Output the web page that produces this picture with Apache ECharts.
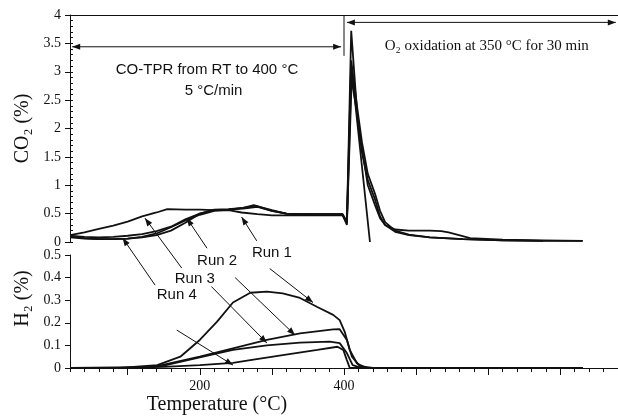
<!DOCTYPE html>
<html><head><meta charset="utf-8">
<script src="https://cdn.jsdelivr.net/npm/echarts@6/dist/echarts.min.js"></script>
<style>html,body{margin:0;padding:0;background:#fff}#c{width:618px;height:418px}</style>
</head><body><div id="c"></div>
<script>
// ---- CO2 (%) traces, top panel ----
const co2Run1T = [20,40,60,80,100,120,140,160,180,200,220,240,258,280,300,320,340,360,380,398,404,410,419,425,433,443,450,457,471,490,519,565,620,676,731];
const co2Run1  = [0.10,0.07,0.05,0.05,0.06,0.09,0.15,0.26,0.38,0.48,0.55,0.56,0.52,0.49,0.47,0.47,0.47,0.47,0.47,0.47,0.33,3.72,2.14,1.57,1.09,0.75,0.45,0.30,0.18,0.12,0.08,0.05,0.03,0.02,0.02];
const co2Run2T = [20,40,60,80,100,120,140,160,180,200,220,240,260,280,300,320,340,360,380,398,404,410,419,425,433,443,450,457,471,490,519,565,620,676];
const co2Run2  = [0.11,0.09,0.08,0.09,0.11,0.14,0.19,0.27,0.40,0.50,0.56,0.57,0.59,0.62,0.55,0.50,0.49,0.49,0.49,0.49,0.36,3.20,2.30,1.75,1.20,0.85,0.55,0.35,0.20,0.13,0.08,0.05,0.03,0.02];
const co2Run3T = [20,40,60,80,100,120,140,155,180,200,220,240,260,275,300,320,340,360,380,398,404,410,419,425,433,443,450,457,471,490,519,535,545,575,620,676,731];
const co2Run3  = [0.12,0.17,0.23,0.29,0.36,0.45,0.52,0.58,0.57,0.57,0.56,0.57,0.60,0.65,0.55,0.50,0.49,0.49,0.49,0.49,0.34,2.90,2.20,1.65,1.00,0.65,0.42,0.30,0.22,0.20,0.20,0.19,0.17,0.07,0.04,0.03,0.02];
const co2Run4T = [20,40,60,80,100,120,140,160,180,200,220,240,260,280,300,320,340,360,380,398,404,411,436];
const co2Run4  = [0.08,0.06,0.05,0.05,0.06,0.08,0.12,0.20,0.34,0.50,0.57,0.58,0.60,0.63,0.56,0.50,0.49,0.48,0.48,0.48,0.30,3.00,0.00];
// ---- H2 (%) traces, bottom panel ----
const h2Run1T = [20,89,141,173,200,224,246,270,293,315,339,363,385,394,401,408,418,432,731];
const h2Run1  = [0,0,0.013,0.05,0.124,0.205,0.29,0.333,0.338,0.33,0.31,0.27,0.235,0.212,0.16,0.08,0.02,0,0];
const h2Run2T = [20,120,141,200,246,293,339,385,394,404,411,422,440,731];
const h2Run2  = [0,0,0.008,0.05,0.087,0.124,0.153,0.171,0.172,0.124,0.05,0.008,0,0];
const h2Run3T = [20,120,150,200,246,293,339,380,394,404,412,425,731];
const h2Run3  = [0,0,0.01,0.047,0.08,0.10,0.112,0.117,0.11,0.066,0.013,0,0];
const h2Run4T = [20,150,200,246,270,315,363,391,399,404,408,731];
const h2Run4  = [0,0.005,0.013,0.023,0.035,0.057,0.08,0.094,0.08,0.035,0,0];
// ---- axis ticks / labels ----
const xLabelValues = [200, 400];
const xMajorTicks = [100, 200, 300, 400, 500, 600, 700];
const runNames = ['Run 1', 'Run 2', 'Run 3', 'Run 4'];

const pair = (xs, ys) => xs.map((x, i) => [x, ys[i]]);
const serif = '"Liberation Serif","DejaVu Serif",serif';
const sans = '"Liberation Sans","DejaVu Sans",sans-serif';
const ink = '#111';

const chart = echarts.init(document.getElementById('c'), null, {renderer: 'canvas'});
const lineSeries = (data, xi, yi) => ({
  type: 'line', data, xAxisIndex: xi, yAxisIndex: yi, showSymbol: false, symbol: 'none',
  lineStyle: {color: ink, width: 1.8}, animation: false, silent: true, z: 3
});

const option = {
  backgroundColor: '#fff',
  animation: false,
  grid: [
    {left: 70, top: 15, width: 548, height: 227},
    {left: 70, top: 255, width: 548, height: 113}
  ],
  xAxis: [
    {gridIndex: 0, type: 'value', min: 20, max: 780, position: 'top',
     axisLine: {show: true, onZero: false, lineStyle: {color: ink, width: 1}},
     axisTick: {show: false}, axisLabel: {show: false}, splitLine: {show: false}},
    {gridIndex: 1, type: 'value', min: 20, max: 780, interval: 20, position: 'bottom',
     axisLine: {show: true, onZero: false, lineStyle: {color: ink, width: 1}},
     axisTick: {show: true, length: 4, lineStyle: {color: ink}},
     axisLabel: {show: true, customValues: xLabelValues, formatter: v => (xLabelValues.includes(v) ? String(v) : ''),
       fontFamily: serif, fontSize: 14, color: ink, margin: 11},
     splitLine: {show: false},
     name: 'Temperature (°C)', nameLocation: 'middle', nameGap: 27,
     nameTextStyle: {fontFamily: serif, fontSize: 20, color: ink, padding: [0, 254, 0, 0]}},
    {gridIndex: 1, type: 'value', min: 20, max: 780, position: 'bottom',
     axisLine: {show: false, onZero: false},
     axisTick: {show: true, length: 7, customValues: xMajorTicks, lineStyle: {color: ink}},
     axisLabel: {show: false}, splitLine: {show: false}}
  ],
  yAxis: [
    {gridIndex: 0, type: 'value', min: 0, max: 4, interval: 0.5, position: 'left',
     axisLine: {show: true, onZero: false, lineStyle: {color: ink}},
     axisTick: {show: true, length: 5, lineStyle: {color: ink}},
     axisLabel: {fontFamily: serif, fontSize: 14, color: ink, margin: 9},
     splitLine: {show: false},
     name: 'CO₂ (%)', nameLocation: 'middle', nameRotate: 90, nameGap: 37,
     nameTextStyle: {fontFamily: serif, fontSize: 20, color: ink}},
    {gridIndex: 0, type: 'value', min: 0, max: 4, interval: 0.1, position: 'left',
     axisLine: {show: false, onZero: false}, axisTick: {show: true, inside: true, length: 3, lineStyle: {color: ink}},
     axisLabel: {show: false}, splitLine: {show: false}},
    {gridIndex: 1, type: 'value', min: 0, max: 0.5, interval: 0.1, position: 'left',
     axisLine: {show: true, onZero: false, lineStyle: {color: ink}},
     axisTick: {show: true, length: 5, lineStyle: {color: ink}},
     axisLabel: {fontFamily: serif, fontSize: 14, color: ink, margin: 9},
     splitLine: {show: false},
     name: 'H₂ (%)', nameLocation: 'middle', nameRotate: 90, nameGap: 37,
     nameTextStyle: {fontFamily: serif, fontSize: 20, color: ink, padding: [0, 0, 0, 26]}}
  ],
  series: [
    lineSeries(pair(co2Run1T, co2Run1), 0, 0),
    lineSeries(pair(co2Run2T, co2Run2), 0, 0),
    lineSeries(pair(co2Run3T, co2Run3), 0, 0),
    lineSeries(pair(co2Run4T, co2Run4), 0, 0),
    lineSeries(pair(h2Run1T, h2Run1), 1, 2),
    lineSeries(pair(h2Run2T, h2Run2), 1, 2),
    lineSeries(pair(h2Run3T, h2Run3), 1, 2),
    lineSeries(pair(h2Run4T, h2Run4), 1, 2)
  ]
};
chart.setOption(option);

// ---- annotations, placed in data coordinates ----
const P = (panel, x, y) => chart.convertToPixel({seriesIndex: panel === 0 ? 0 : 4}, [x, y]);
const g = [];
function seg(a, b, w) {
  g.push({type: 'line', shape: {x1: a[0], y1: a[1], x2: b[0], y2: b[1]}, style: {stroke: ink, lineWidth: w || 1}, z: 10});
}
function head(a, b, len, half) {
  const ang = Math.atan2(b[1] - a[1], b[0] - a[0]);
  const bx = b[0] - len * Math.cos(ang), by = b[1] - len * Math.sin(ang);
  g.push({type: 'polygon', shape: {points: [[b[0], b[1]],
    [bx + half * Math.sin(ang), by - half * Math.cos(ang)],
    [bx - half * Math.sin(ang), by + half * Math.cos(ang)]]}, style: {fill: ink}, z: 10});
}
function arrow(a, b, both) { seg(a, b); head(a, b, 8, 3); if (both) head(b, a, 8, 3); }

// phase arrows
arrow(P(0, 23, 3.44), P(0, 396, 3.44), true);
arrow(P(0, 404, 3.87), P(0, 777, 3.87), true);
seg(P(0, 400, 4), P(0, 400, 3.28));

// run arrows (top panel targets, bottom panel targets)
const runArrowsTop = [[279, 0.02, 258, 0.44], [210, -0.11, 182, 0.42], [175, -0.46, 124, 0.42], [138, -0.76, 93, 0.07]];
const runArrowsBottom = [[297, 0.44, 357, 0.29], [249, 0.40, 332, 0.146], [207, 0.39, 293, 0.111], [168, 0.168, 246, 0.013]];
runArrowsTop.forEach(r => arrow(P(0, r[0], r[1]), P(0, r[2], r[3])));
runArrowsBottom.forEach(r => arrow(P(1, r[0], r[1]), P(1, r[2], r[3])));

const runLabelPos = [[300, 0.509], [224, 0.473], [193, 0.394], [168, 0.323]];
runNames.forEach((n, i) => {
  const p = P(1, runLabelPos[i][0], runLabelPos[i][1]);
  g.push({type: 'text', x: p[0], y: p[1], style: {text: n, font: '15px ' + sans, fill: ink, align: 'center', verticalAlign: 'middle', backgroundColor: '#fff'}, z: 11});
});

const t1 = P(0, 210, 3.04), t2 = P(0, 219, 2.67), t3 = P(0, 598, 3.45);
g.push({type: 'text', x: t1[0], y: t1[1], style: {text: 'CO-TPR from RT to 400 °C', font: '15px ' + sans, fill: ink, align: 'center', verticalAlign: 'middle'}, z: 11});
g.push({type: 'text', x: t2[0], y: t2[1], style: {text: '5 °C/min', font: '15px ' + sans, fill: ink, align: 'center', verticalAlign: 'middle'}, z: 11});
g.push({type: 'text', x: t3[0], y: t3[1], style: {text: 'O₂ oxidation at 350 °C for 30 min', font: '15px ' + serif, fill: ink, align: 'center', verticalAlign: 'middle'}, z: 11});

chart.setOption({graphic: g});
</script>
</body></html>
